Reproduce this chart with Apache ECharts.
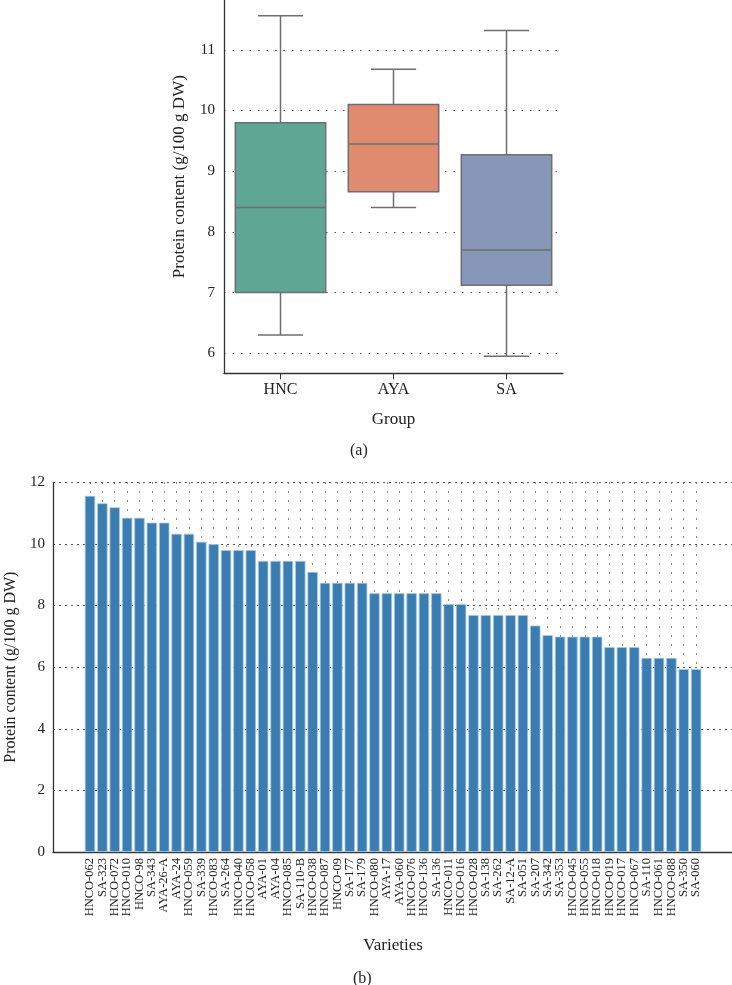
<!DOCTYPE html>
<html><head><meta charset="utf-8">
<script src="https://cdn.jsdelivr.net/npm/echarts@6/dist/echarts.min.js"></script>
<style>html,body{margin:0;padding:0;background:#fff}#c{width:732px;height:985px}</style>
</head><body><div id="c"></div>
<script>
// ---- Panel (a): box plot summary per group ----
const groups = ['HNC', 'AYA', 'SA'];
const boxMin = [6.30, 8.40, 5.95];
const boxQ1 = [7.00, 8.66, 7.12];
const boxMedian = [8.40, 9.45, 7.70];
const boxQ3 = [9.80, 10.10, 9.27];
const boxMax = [11.56, 10.68, 11.32];

// ---- Panel (b): protein content per variety ----
const varieties = ['HNCO-062','SA-323','HNCO-072','HNCO-010','HNCO-98','SA-343','AYA-26-A','AYA-24','HNCO-059','SA-339',
  'HNCO-083','SA-264','HNCO-040','HNCO-058','AYA-01','AYA-04','HNCO-085','SA-110-B','HNCO-038','HNCO-087',
  'HNCO-09','SA-177','SA-179','HNCO-080','AYA-17','AYA-060','HNCO-076','HNCO-136','SA-136','HNCO-011',
  'HNCO-016','HNCO-028','SA-138','SA-262','SA-12-A','SA-051','SA-207','SA-342','SA-353','HNCO-045',
  'HNCO-055','HNCO-018','HNCO-019','HNCO-017','HNCO-067','SA-110','HNCO-061','HNCO-088','SA-350','SA-060'];
const protein = [11.56,11.32,11.19,10.85,10.85,10.69,10.69,10.33,10.33,10.07,
  9.99,9.80,9.80,9.80,9.45,9.45,9.45,9.45,9.09,8.74,
  8.74,8.74,8.74,8.40,8.40,8.40,8.40,8.40,8.40,8.05,
  8.05,7.69,7.69,7.69,7.69,7.69,7.35,7.04,6.99,6.99,
  6.99,6.99,6.65,6.65,6.65,6.30,6.30,6.30,5.94,5.94];

const yTitle = 'Protein content (g/100 g DW)';
const boxColors = ['#5fa795', '#e08b6f', '#8697b8'];
const FONT = 'Liberation Serif';
const TXT = '#222';

const chart = echarts.init(document.getElementById('c'), null, {renderer: 'canvas'});
chart.setOption({
  animation: false,
  backgroundColor: '#fff',
  textStyle: {fontFamily: FONT, color: TXT},
  title: [
    {text: '(a)', left: 345, top: 438, padding: 5, textStyle: {fontFamily: FONT, fontSize: 16, fontWeight: 'normal', color: TXT}},
    {text: '(b)', left: 348, top: 966, padding: 5, textStyle: {fontFamily: FONT, fontSize: 16, fontWeight: 'normal', color: TXT}}
  ],
  grid: [
    {left: 224, width: 339, top: -20, height: 393.3, outerBoundsMode: 'none', containLabel: false},
    {left: 53, width: 679, top: 482.3, height: 369.7, outerBoundsMode: 'none', containLabel: false},
    {left: 83.8, width: 618.5, top: 482.3, height: 369.7, outerBoundsMode: 'none', containLabel: false}
  ],
  xAxis: [
    {gridIndex: 0, type: 'category', data: groups,
      axisLine: {show: true, lineStyle: {color: '#333', width: 1.3}},
      axisTick: {show: true, alignWithLabel: true, length: 6, lineStyle: {color: '#333'}},
      axisLabel: {fontSize: 16, margin: 8, color: TXT, fontFamily: FONT},
      splitLine: {show: false},
      name: 'Group', nameLocation: 'middle', nameGap: 38,
      nameTextStyle: {fontSize: 17, color: TXT, fontFamily: FONT}},
    {gridIndex: 1, type: 'value', min: 0, max: 1,
      axisLine: {show: true, onZero: false, lineStyle: {color: '#333', width: 1.3}},
      axisTick: {show: false}, axisLabel: {show: false}, splitLine: {show: false}},
    {gridIndex: 2, type: 'category', data: varieties,
      axisLine: {show: false},
      axisTick: {show: true, inside: true, alignWithLabel: true, length: 6, lineStyle: {color: '#222', width: 1.2}},
      axisLabel: {rotate: 90, interval: 0, fontSize: 12.5, margin: 6, color: TXT, fontFamily: FONT},
      splitLine: {show: true, alignWithLabel: true, interval: 0, lineStyle: {type: [1.5, 7.5], color: '#666', width: 1}},
      name: 'Varieties', nameLocation: 'middle', nameGap: 85,
      nameTextStyle: {fontSize: 17, color: TXT, fontFamily: FONT}}
  ],
  yAxis: [
    {gridIndex: 0, type: 'value', min: 5.67, max: 12.15,
      axisLine: {show: true, lineStyle: {color: '#333', width: 1.3}},
      axisTick: {show: false},
      axisLabel: {fontSize: 15, margin: 9, color: TXT, fontFamily: FONT, showMinLabel: false, showMaxLabel: false},
      splitLine: {show: true, lineStyle: {type: [1.5, 7], color: '#555', width: 1}},
      name: yTitle, nameLocation: 'middle', nameGap: 36,
      nameTextStyle: {fontSize: 17, color: TXT, fontFamily: FONT}},
    {gridIndex: 1, type: 'value', min: 0, max: 12, interval: 2,
      axisLine: {show: true, lineStyle: {color: '#333', width: 1.3}},
      axisTick: {show: false},
      axisLabel: {fontSize: 15, margin: 8, color: TXT, fontFamily: FONT},
      splitLine: {show: true, lineStyle: {type: [2, 4], color: '#555', width: 1}},
      name: yTitle, nameLocation: 'middle', nameGap: 33,
      nameTextStyle: {fontSize: 16, color: TXT, fontFamily: FONT}},
    {gridIndex: 2, type: 'value', min: 0, max: 12, interval: 2, show: false}
  ],
  series: [
    {type: 'custom', xAxisIndex: 0, yAxisIndex: 0, silent: true,
      data: groups.map((g, i) => [i, boxMin[i], boxQ1[i], boxMedian[i], boxQ3[i], boxMax[i]]),
      encode: {x: 0, y: [1, 2, 3, 4, 5]},
      renderItem: function (params, api) {
        const i = api.value(0);
        const x = api.coord([i, api.value(3)])[0];
        const bw = api.size([1, 0])[0] * 0.8;
        const yv = k => api.coord([i, api.value(k)])[1];
        const yMin = yv(1), yQ1 = yv(2), yMed = yv(3), yQ3 = yv(4), yMax = yv(5);
        const stroke = '#6e6e6e';
        const ls = {stroke: stroke, lineWidth: 1.5, fill: null};
        return {type: 'group', children: [
          {type: 'line', shape: {x1: x, y1: yQ3, x2: x, y2: yMax}, style: ls},
          {type: 'line', shape: {x1: x - bw / 4, y1: yMax, x2: x + bw / 4, y2: yMax}, style: ls},
          {type: 'line', shape: {x1: x, y1: yQ1, x2: x, y2: yMin}, style: ls},
          {type: 'line', shape: {x1: x - bw / 4, y1: yMin, x2: x + bw / 4, y2: yMin}, style: ls},
          {type: 'rect', shape: {x: x - bw / 2, y: yQ3, width: bw, height: yQ1 - yQ3},
            style: {fill: boxColors[i], stroke: stroke, lineWidth: 1.5}},
          {type: 'line', shape: {x1: x - bw / 2, y1: yMed, x2: x + bw / 2, y2: yMed}, style: ls}
        ]};
      }},
    {type: 'bar', xAxisIndex: 2, yAxisIndex: 2, silent: true, data: protein,
      barCategoryGap: '16%',
      itemStyle: {color: '#3a7db3', borderColor: '#a8c8e2', borderWidth: 0.8}}
  ]
});
</script>
</body></html>
